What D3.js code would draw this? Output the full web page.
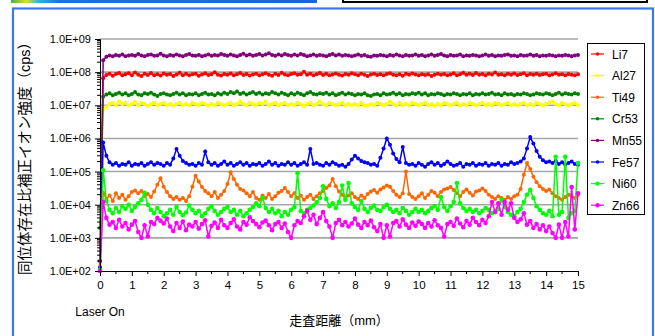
<!DOCTYPE html>
<html>
<head>
<meta charset="utf-8">
<script src="https://cdn.jsdelivr.net/npm/d3@7/dist/d3.min.js"></script>
<style>
html,body{margin:0;padding:0;background:#fff;}
svg{display:block;}
text{font-family:"Liberation Sans","Noto Sans CJK JP",sans-serif;}
</style>
</head>
<body>
<svg id="chart" width="655" height="336"></svg>
<script>
// ---- data (cps), sampled every 0.1 mm from 0 to 15 mm ----
const stepMm = 0.1;
const seriesNames = ["Li7","Al27","Ti49","Cr53","Mn55","Fe57","Ni60","Zn66"];
const seriesColors = ["#ff0000","#ffff00","#ff6600","#008000","#800080","#0000ff","#00ff00","#ff00ff"];
const xTickLabels = ["0","1","2","3","4","5","6","7","8","9","10","11","12","13","14","15"];
const yTickLabels = ["1.0E+02","1.0E+03","1.0E+04","1.0E+05","1.0E+06","1.0E+07","1.0E+08","1.0E+09"];

const li7 = [2e2,6.5e7,8.2e7,9.0e7,7.8e7,8.8e7,9.5e7,8.0e7,8.6e7,9.2e7,
8.1e7,9.8e7,8.4e7,7.6e7,8.9e7,8.2e7,9.4e7,8.0e7,8.7e7,7.9e7,
9.1e7,8.3e7,8.8e7,7.7e7,8.5e7,9.6e7,8.1e7,8.9e7,8.0e7,8.6e7,
9.0e7,7.8e7,8.5e7,9.3e7,8.2e7,8.7e7,1.0e8,8.4e7,7.9e7,8.8e7,
8.3e7,9.1e7,8.0e7,8.6e7,9.4e7,8.2e7,8.8e7,7.9e7,8.5e7,9.0e7,
8.1e7,8.7e7,9.3e7,8.4e7,7.8e7,8.9e7,8.2e7,9.6e7,8.5e7,8.0e7,
8.8e7,9.2e7,8.3e7,8.7e7,1.02e8,8.4e7,9.0e7,8.1e7,8.6e7,9.4e7,
8.2e7,8.9e7,8.0e7,8.5e7,9.1e7,8.3e7,7.9e7,8.8e7,8.4e7,9.2e7,
8.6e7,8.1e7,8.9e7,8.3e7,7.7e7,8.5e7,9.0e7,8.2e7,8.7e7,8.0e7,
8.8e7,9.3e7,8.4e7,8.1e7,8.6e7,7.8e7,8.9e7,8.3e7,9.1e7,8.5e7,
8.0e7,8.7e7,8.2e7,8.6e7,7.6e7,8.4e7,9.0e7,8.3e7,8.8e7,8.1e7,
8.5e7,9.2e7,8.0e7,8.7e7,9.6e7,8.3e7,8.9e7,8.2e7,9.4e7,8.4e7,
8.8e7,8.1e7,9.0e7,8.5e7,9.7e7,8.3e7,8.7e7,8.0e7,8.9e7,8.4e7,
9.1e7,8.2e7,8.6e7,9.3e7,8.1e7,8.8e7,8.4e7,9.0e7,8.2e7,8.6e7,
8.9e7,8.0e7,8.5e7,9.2e7,8.3e7,8.7e7,8.1e7,8.8e7,8.4e7,8.0e7,8.6e7];

const al27 = [1.6e2,7.5e6,9.0e6,1.1e7,1.2e7,1.0e7,1.3e7,1.1e7,1.2e7,1.0e7,
1.1e7,1.3e7,1.0e7,1.2e7,1.1e7,9.5e6,1.1e7,1.2e7,1.0e7,1.1e7,
1.2e7,1.0e7,1.1e7,9.8e6,1.1e7,1.2e7,1.0e7,1.1e7,1.0e7,1.2e7,
1.1e7,1.0e7,1.2e7,1.1e7,9.6e6,1.1e7,1.0e7,1.2e7,1.1e7,1.0e7,
1.1e7,1.2e7,1.0e7,1.1e7,1.3e7,1.1e7,1.0e7,1.2e7,1.1e7,1.0e7,
1.2e7,1.1e7,1.3e7,1.0e7,1.1e7,1.2e7,1.0e7,1.1e7,1.2e7,1.0e7,
1.1e7,1.0e7,1.2e7,1.1e7,9.7e6,1.1e7,1.2e7,1.0e7,1.1e7,1.3e7,
1.1e7,1.0e7,1.2e7,1.1e7,1.0e7,1.1e7,1.2e7,1.0e7,1.1e7,1.0e7,
1.1e7,1.0e7,1.2e7,1.0e7,9.8e6,1.1e7,1.0e7,1.2e7,1.1e7,1.0e7,
1.1e7,1.3e7,1.1e7,1.0e7,1.2e7,1.0e7,1.1e7,1.0e7,1.2e7,1.1e7,
1.0e7,1.1e7,1.2e7,1.0e7,1.1e7,9.7e6,1.1e7,1.0e7,1.2e7,1.1e7,
1.0e7,1.1e7,1.2e7,1.0e7,1.1e7,1.0e7,1.2e7,1.1e7,1.0e7,1.1e7,
1.2e7,1.0e7,1.1e7,1.0e7,1.2e7,1.1e7,1.0e7,1.1e7,1.2e7,1.0e7,
1.1e7,1.0e7,1.1e7,1.2e7,1.0e7,1.1e7,1.0e7,1.2e7,1.1e7,1.0e7,
1.1e7,1.2e7,1.3e7,1.1e7,1.0e7,1.2e7,1.1e7,1.0e7,1.1e7,1.2e7,1.0e7];

const ti49 = [1.2e2,2.3e4,1.5e4,1.9e4,1.3e4,2.2e4,1.6e4,2.0e4,1.4e4,1.8e4,
2.4e4,2.7e4,2.2e4,2.6e4,1.8e4,2.1e4,1.7e4,2.5e4,4.0e4,6.3e4,
3.5e4,2.4e4,1.8e4,1.5e4,1.7e4,1.4e4,1.6e4,1.3e4,1.8e4,3.5e4,
7.5e4,5.0e4,3.4e4,2.6e4,2.2e4,1.8e4,2.4e4,1.6e4,2.0e4,2.6e4,
4.2e4,9.5e4,6.0e4,4.0e4,3.0e4,2.7e4,2.2e4,1.8e4,2.4e4,1.6e4,
1.4e4,1.9e4,1.6e4,2.1e4,1.5e4,1.8e4,2.3e4,2.6e4,3.2e4,2.4e4,
1.8e4,2.2e4,1.6e4,1.9e4,1.4e4,1.7e4,2.0e4,1.5e4,1.8e4,2.2e4,
2.6e4,3.2e4,3.8e4,6.0e4,3.6e4,2.5e4,2.0e4,1.6e4,1.9e4,2.2e4,
1.7e4,1.5e4,1.9e4,1.6e4,2.1e4,2.5e4,2.8e4,2.3e4,2.9e4,3.3e4,
3.8e4,3.5e4,2.6e4,2.0e4,1.7e4,2.2e4,1.0e5,2.1e4,1.7e4,1.5e4,
1.8e4,2.2e4,1.6e4,2.0e4,2.6e4,2.3e4,1.8e4,2.4e4,2.9e4,3.1e4,
3.4e4,2.8e4,2.2e4,1.8e4,2.4e4,2.9e4,2.3e4,1.9e4,2.5e4,2.7e4,
3.1e4,2.6e4,2.0e4,1.7e4,1.5e4,1.8e4,1.6e4,1.4e4,1.7e4,1.5e4,
1.8e4,2.0e4,3.0e4,8.0e4,1.8e5,1.2e5,7.0e4,4.8e4,3.6e4,3.0e4,
2.6e4,2.9e4,2.2e4,1.8e4,1.6e4,1.4e4,1.7e4,2.0e4,1.8e4,1.6e4,2.0e4];

const cr53 = [2.0e3,1.8e7,2.1e7,2.3e7,2.0e7,2.2e7,2.4e7,2.1e7,2.3e7,2.0e7,
2.2e7,2.5e7,2.1e7,2.0e7,2.3e7,2.2e7,2.4e7,2.1e7,1.9e7,2.2e7,
2.3e7,2.1e7,2.0e7,2.2e7,2.4e7,2.1e7,2.3e7,2.0e7,2.2e7,2.1e7,
2.3e7,2.0e7,2.2e7,2.4e7,2.1e7,2.2e7,2.0e7,2.3e7,2.1e7,2.4e7,
2.2e7,2.5e7,2.3e7,2.6e7,2.2e7,2.4e7,2.1e7,2.3e7,2.5e7,2.2e7,
2.4e7,2.1e7,2.3e7,2.2e7,2.5e7,2.3e7,2.1e7,2.4e7,2.2e7,2.0e7,
2.3e7,2.1e7,2.4e7,2.2e7,2.0e7,2.3e7,2.5e7,2.2e7,2.1e7,2.3e7,
2.2e7,2.4e7,2.1e7,2.3e7,2.0e7,2.2e7,2.4e7,2.1e7,2.3e7,2.2e7,
2.0e7,2.2e7,2.1e7,2.3e7,2.0e7,1.9e7,2.1e7,2.2e7,2.0e7,2.3e7,
2.1e7,2.2e7,2.4e7,2.1e7,2.3e7,2.0e7,2.2e7,2.1e7,2.3e7,2.2e7,
2.4e7,2.1e7,2.3e7,2.0e7,2.2e7,2.1e7,2.3e7,2.2e7,2.0e7,2.2e7,
2.1e7,2.3e7,2.2e7,2.0e7,2.2e7,2.1e7,2.3e7,2.0e7,2.2e7,2.1e7,
2.3e7,2.1e7,2.2e7,2.4e7,2.1e7,2.2e7,2.0e7,2.3e7,2.1e7,2.2e7,
2.0e7,2.2e7,2.1e7,2.3e7,2.2e7,2.0e7,2.1e7,2.3e7,2.2e7,2.1e7,
2.3e7,2.2e7,2.0e7,2.2e7,2.4e7,2.1e7,2.3e7,2.2e7,2.1e7,2.3e7,2.2e7];

const mn55 = [2e2,2.3e8,2.9e8,3.2e8,3.0e8,3.3e8,3.1e8,3.4e8,3.0e8,3.2e8,
3.3e8,3.1e8,3.5e8,3.2e8,3.0e8,3.3e8,3.4e8,3.1e8,3.2e8,3.6e8,
3.2e8,3.0e8,3.3e8,3.1e8,3.4e8,3.2e8,3.0e8,3.3e8,3.5e8,3.2e8,
3.1e8,3.3e8,3.0e8,3.2e8,3.4e8,3.1e8,3.3e8,3.2e8,3.5e8,3.3e8,
3.1e8,3.4e8,3.2e8,3.0e8,3.3e8,3.6e8,3.2e8,3.4e8,3.1e8,3.3e8,
3.5e8,3.2e8,3.4e8,3.7e8,3.3e8,3.1e8,3.4e8,3.2e8,3.5e8,3.3e8,
3.1e8,3.4e8,3.2e8,3.5e8,3.3e8,3.0e8,3.2e8,3.4e8,3.1e8,3.3e8,
3.2e8,3.0e8,3.3e8,3.5e8,3.2e8,3.4e8,3.1e8,3.3e8,3.2e8,3.0e8,
3.2e8,3.4e8,3.1e8,3.3e8,3.0e8,2.9e8,3.2e8,3.1e8,3.3e8,3.2e8,
3.0e8,3.3e8,3.1e8,3.4e8,3.2e8,3.0e8,3.3e8,3.1e8,3.2e8,3.4e8,
3.1e8,3.3e8,3.0e8,3.2e8,3.4e8,3.1e8,3.3e8,3.5e8,3.2e8,3.0e8,
3.3e8,3.1e8,3.2e8,3.4e8,3.0e8,3.2e8,3.1e8,3.3e8,3.2e8,3.0e8,
3.2e8,3.4e8,3.1e8,3.3e8,3.0e8,3.2e8,3.1e8,3.3e8,3.4e8,3.1e8,
3.2e8,3.0e8,3.3e8,3.1e8,3.2e8,3.4e8,3.1e8,3.3e8,3.0e8,3.2e8,
3.1e8,3.3e8,3.2e8,3.0e8,3.2e8,3.1e8,3.3e8,3.2e8,3.0e8,3.2e8,3.3e8];

const fe57 = [1.3e2,7.5e5,3.0e5,1.9e5,1.6e5,1.8e5,1.5e5,1.7e5,1.6e5,1.9e5,
1.5e5,1.7e5,1.6e5,1.8e5,1.5e5,1.7e5,1.9e5,1.6e5,1.8e5,1.7e5,
1.5e5,1.8e5,1.6e5,2.5e5,4.8e5,3.0e5,2.1e5,1.8e5,1.6e5,1.7e5,
1.5e5,1.8e5,1.6e5,4.0e5,1.9e5,1.6e5,1.8e5,1.5e5,1.7e5,2.0e5,
1.6e5,1.8e5,1.5e5,1.7e5,1.9e5,1.6e5,1.8e5,1.5e5,1.7e5,1.6e5,
1.8e5,1.5e5,1.7e5,2.0e5,1.6e5,1.8e5,1.5e5,1.7e5,1.6e5,1.9e5,
1.6e5,1.8e5,1.5e5,1.7e5,1.9e5,1.6e5,4.8e5,1.7e5,1.8e5,1.6e5,
1.5e5,1.8e5,1.6e5,1.9e5,1.7e5,1.5e5,1.6e5,1.4e5,1.7e5,2.3e5,
3.0e5,2.5e5,2.1e5,1.9e5,1.8e5,1.6e5,1.7e5,1.5e5,2.6e5,5.0e5,
1.0e6,6.5e5,3.5e5,2.4e5,1.9e5,5.5e5,1.8e5,1.6e5,1.7e5,1.5e5,
1.8e5,1.6e5,1.4e5,1.7e5,1.9e5,1.6e5,1.8e5,1.5e5,1.7e5,2.0e5,
1.7e5,1.5e5,1.6e5,1.8e5,1.4e5,1.7e5,1.6e5,1.8e5,1.5e5,1.7e5,
1.6e5,1.8e5,1.5e5,1.7e5,1.6e5,1.8e5,1.5e5,1.7e5,1.6e5,1.9e5,
1.7e5,1.8e5,2.0e5,2.5e5,5.0e5,1.1e6,7.0e5,4.2e5,2.8e5,2.2e5,
1.9e5,2.0e5,1.8e5,2.1e5,1.7e5,1.9e5,1.6e5,1.8e5,2.0e5,1.7e5,1.6e5];

const ni60 = [1.1e2,1.1e5,1.3e4,7.0e3,5.5e3,8.0e3,6.0e3,9.0e3,7.5e3,1.0e4,
6.5e3,8.5e3,1.1e4,1.4e4,2.3e4,1.0e4,7.0e3,5.5e3,8.0e3,6.0e3,
4.5e3,5.5e3,7.0e3,5.0e3,8.5e3,6.0e3,4.8e3,5.8e3,9.5e3,7.0e3,
5.5e3,6.5e3,4.5e3,5.5e3,7.5e3,9.0e3,6.5e3,5.0e3,6.0e3,7.5e3,
8.5e3,6.0e3,7.0e3,5.0e3,6.5e3,4.5e3,5.5e3,7.0e3,8.5e3,1.1e4,
9.0e3,1.6e4,8.0e3,6.0e3,7.5e3,5.5e3,6.5e3,4.5e3,6.0e3,5.0e3,
7.0e3,8.5e3,9.0e4,6.5e3,5.5e3,7.0e3,8.0e3,9.5e3,1.2e4,1.6e4,
3.6e4,1.5e4,9.0e3,1.1e4,8.0e3,1.2e4,3.8e4,1.4e4,4.5e4,1.1e4,
8.5e3,7.0e3,1.3e4,7.5e3,6.0e3,8.0e3,9.5e3,7.0e3,6.5e3,8.5e3,
1.0e4,7.5e3,6.0e3,7.0e3,5.5e3,8.0e3,6.5e3,5.0e3,6.0e3,7.5e3,
6.0e3,7.0e3,5.5e3,6.5e3,8.0e3,9.0e3,7.0e3,1.7e4,8.5e3,6.5e3,
9.0e3,1.2e4,4.5e4,1.1e4,8.0e3,6.5e3,7.5e3,6.0e3,7.0e3,5.5e3,
6.5e3,8.0e3,7.0e3,5.5e3,6.0e3,7.5e3,1.4e4,8.5e3,6.0e3,5.0e3,
4.5e3,6.0e3,7.5e3,1.2e4,2.0e4,2.8e4,1.6e4,9.0e3,7.0e3,5.5e3,
5.0e3,6.5e3,4.5e3,2.8e5,5.0e3,6.0e3,2.8e5,4.0e3,5.5e3,6.5e3,1.8e5];

const zn66 = [1.0e2,1.2e4,4.0e3,2.5e3,3.0e3,2.0e3,3.5e3,2.2e3,2.8e3,1.8e3,
2.5e3,3.2e3,1.5e3,1.0e3,2.4e3,1.1e3,3.0e3,2.6e3,4.0e3,3.3e3,
2.7e3,3.8e3,2.2e3,1.6e3,2.8e3,2.0e3,3.1e3,1.7e3,2.5e3,2.2e3,
3.0e3,1.9e3,2.6e3,3.4e3,1.1e3,2.3e3,2.9e3,2.0e3,3.5e3,2.4e3,
2.0e3,2.8e3,3.6e3,2.2e3,1.8e3,3.0e3,2.5e3,4.2e3,3.2e3,2.6e3,
2.1e3,2.9e3,3.3e3,2.4e3,1.7e3,2.6e3,3.0e3,2.0e3,2.7e3,1.5e3,
1.0e3,2.4e3,3.2e3,2.8e3,4.5e3,6.5e3,3.5e3,5.0e3,2.6e3,4.0e3,
6.0e3,3.2e3,2.2e3,1.0e3,2.8e3,3.5e3,2.4e3,3.0e3,2.2e3,2.7e3,
3.8e3,2.5e3,2.0e3,3.0e3,2.4e3,3.3e3,2.1e3,1.6e3,2.6e3,1.0e3,
2.4e3,1.1e3,2.8e3,3.2e3,2.2e3,3.6e3,2.5e3,2.0e3,2.9e3,2.3e3,
3.1e3,2.6e3,2.0e3,2.8e3,2.2e3,3.4e3,2.4e3,2.0e3,1.1e3,2.6e3,
3.0e3,2.3e3,3.8e3,2.7e3,2.1e3,3.2e3,2.5e3,4.0e3,3.0e3,2.4e3,
3.5e3,2.8e3,4.5e3,1.2e4,6.0e3,1.1e4,5.0e3,1.2e4,7.0e3,1.1e4,
4.0e3,3.0e3,3.6e3,5.5e3,2.5e3,3.2e3,2.0e3,2.6e3,1.8e3,2.4e3,
1.6e3,2.2e3,1.4e3,1.0e3,2.5e3,1.0e3,3.0e3,1.1e3,3.4e4,1.8e3,2.2e4];

const seriesValues = [li7, al27, ti49, cr53, mn55, fe57, ni60, zn66];

// ---- drawing ----
const svg = d3.select("#chart");
const fontStack = '"Liberation Sans","Noto Sans CJK JP",sans-serif';
const cjk = '"Noto Sans CJK JP","Liberation Sans",sans-serif';

// page decorations
const grad = svg.append("defs").append("linearGradient").attr("id","topbar");
[[0,"#3cb43c"],[0.05,"#d7e61e"],[0.09,"#2ab4e6"],[0.16,"#1e6ee6"],[1,"#1a64dc"]].forEach(s=>
  grad.append("stop").attr("offset",s[0]).attr("stop-color",s[1]));
svg.append("rect").attr("x",11).attr("y",0).attr("width",306).attr("height",3).attr("fill","url(#topbar)");
svg.append("rect").attr("x",343).attr("y",-6).attr("width",304).attr("height",8)
  .attr("fill","#fff").attr("stroke","#000").attr("stroke-width",2);
svg.append("rect").attr("x",13).attr("y",8.5).attr("width",640).attr("height",340)
  .attr("fill","none").attr("stroke","#3b78f0").attr("stroke-width",2.2);

const x = d3.scaleLinear().domain([0,15]).range([100,578]);
const y = d3.scaleLog().domain([1e2,1e9]).range([271,39]);

const decades = yTickLabels.map(t => +t.replace("E","e"));

// gridlines
svg.append("g").selectAll("line").data(decades.slice(1)).join("line")
  .attr("x1",x(0)).attr("x2",x(15)).attr("y1",d=>y(d)).attr("y2",d=>y(d))
  .attr("stroke","#a6a6a6").attr("stroke-width",1.6);

// series
const line = d3.line().x((d,i)=>x(i*stepMm)).y(d=>y(d));
seriesValues.forEach((vals,k)=>{
  const g = svg.append("g");
  g.append("path").datum(vals).attr("d",line).attr("fill","none")
    .attr("stroke",seriesColors[k]).attr("stroke-width",1.5);
  const r = (seriesNames[k]==="Ni60"||seriesNames[k]==="Zn66") ? 2.3 : 2.0;
  g.selectAll("circle").data(vals).join("circle")
    .attr("cx",(d,i)=>x(i*stepMm)).attr("cy",d=>y(d)).attr("r",r)
    .attr("fill",seriesColors[k]);
});

// y axis
const yAxis = d3.axisLeft(y).tickValues(decades).tickSize(5)
  .tickFormat((d,i)=>yTickLabels[i]);
const gy = svg.append("g").attr("transform",`translate(${x(0)},0)`).call(yAxis);
gy.select(".domain").attr("stroke","#000");
gy.selectAll(".tick text").attr("font-size",11).attr("font-family",fontStack).attr("x",-9).attr("fill","#000");
// minor ticks
const minors = [];
decades.slice(0,-1).forEach(d=>{ for(let m=2;m<=9;m++) minors.push(d*m); });
svg.append("g").selectAll("line").data(minors).join("line")
  .attr("x1",x(0)-3).attr("x2",x(0)).attr("y1",d=>y(d)).attr("y2",d=>y(d))
  .attr("stroke","#000").attr("stroke-width",1);

// x axis
const xAxis = d3.axisBottom(x).tickValues(d3.range(0,16,1)).tickSize(5)
  .tickFormat((d,i)=>xTickLabels[i]);
const gx = svg.append("g").attr("transform",`translate(0,${y(1e2)})`).call(xAxis);
gx.select(".domain").attr("stroke","#000");
gx.selectAll(".tick text").attr("font-size",11.5).attr("font-family",fontStack).attr("y",10).attr("fill","#000");
svg.append("g").selectAll("line").data(d3.range(0.5,15,1)).join("line")
  .attr("x1",d=>x(d)).attr("x2",d=>x(d)).attr("y1",y(1e2)).attr("y2",y(1e2)+3)
  .attr("stroke","#000");

// labels
svg.append("text").attr("x",x(0)).attr("y",316).attr("text-anchor","middle")
  .attr("font-size",12).attr("font-family",fontStack).text("Laser On");
svg.append("text").attr("x",(x(0)+x(15))/2).attr("y",325).attr("text-anchor","middle")
  .attr("font-size",13).attr("font-family",cjk).text("走査距離（mm）");
svg.append("text").attr("transform","translate(30,155) rotate(-90)").attr("text-anchor","middle")
  .attr("font-size",14.5).attr("font-family",cjk).text("同位体存在比補正イオン強度（cps）");

// legend
const lg = svg.append("g");
lg.append("rect").attr("x",587.5).attr("y",43.5).attr("width",57).attr("height",171)
  .attr("fill","#fff").attr("stroke","#000").attr("stroke-width",1);
seriesNames.forEach((n,k)=>{
  const cy = 54 + k*21.6;
  lg.append("line").attr("x1",591).attr("x2",604).attr("y1",cy).attr("y2",cy)
    .attr("stroke",seriesColors[k]).attr("stroke-width",1.2);
  lg.append("circle").attr("cx",597.5).attr("cy",cy).attr("r",(n==="Ni60"||n==="Zn66")?2.2:1.7)
    .attr("fill",seriesColors[k]);
  lg.append("text").attr("x",612).attr("y",cy+4.5).attr("font-size",12)
    .attr("font-family",fontStack).text(n);
});
</script>
</body>
</html>
